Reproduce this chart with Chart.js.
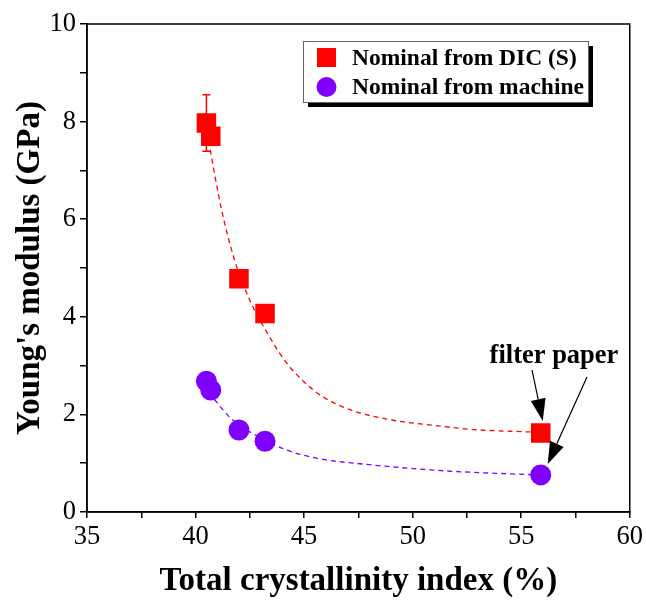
<!DOCTYPE html>
<html>
<head>
<meta charset="utf-8">
<script src="https://cdn.jsdelivr.net/npm/chart.js@4.4.0/dist/chart.umd.min.js"></script>
<style>
  body { margin: 0; background: #fff; }
  #wrap { width: 646px; height: 601px; }
</style>
</head>
<body>
<div id="wrap"><canvas id="grafico"></canvas></div>
<script>
// dados
const crystallinity = [40.5, 40.7, 42.0, 43.2, 55.9];
const modulusDIC = [7.97, 7.7, 4.78, 4.07, 1.62];
const errDIC = [0.58, 0, 0, 0, 0];
const modulusMachine = [2.68, 2.5, 1.68, 1.45, 0.76];

// curvas tracejadas (ajuste)
const fitDicX = [40.6, 41.2, 41.8, 42.5, 43.3, 44.2, 45.6, 47.1, 49.1, 50.5, 52.8, 55.4, 55.9];
const fitDicY = [7.6, 6.19, 5.16, 4.34, 3.67, 3.05, 2.44, 2.1, 1.88, 1.8, 1.69, 1.64, 1.63];
const fitMachX = [40.6, 41.7, 43.0, 44.2, 45.6, 48.0, 50.0, 52.0, 54.0, 55.9];
const fitMachY = [2.45, 1.89, 1.52, 1.27, 1.1, 0.97, 0.89, 0.83, 0.79, 0.76];

const xTicks = [35, 40, 45, 50, 55, 60];
const yTicks = [0, 2, 4, 6, 8, 10];

const legendLabels = ['Nominal from DIC (S)', 'Nominal from machine'];

const RED = '#ff0000';
const PURPLE = '#8000ff';
const SERIF = '"Liberation Serif", "Times New Roman", serif';

const toPts = (xs, ys) => xs.map((x, i) => ({ x: x, y: ys[i] }));

// moldura, barra de erro, legenda e anotacao
const extras = {
  id: 'extras',
  beforeDatasetsDraw(chart) {
    const ctx = chart.ctx;
    const xs = chart.scales.x, ys = chart.scales.y;
    ctx.save();
    ctx.strokeStyle = RED;
    ctx.lineWidth = 1.5;
    crystallinity.forEach((x, i) => {
      if (!errDIC[i]) return;
      const px = xs.getPixelForValue(x);
      const top = ys.getPixelForValue(modulusDIC[i] + errDIC[i]);
      const bot = ys.getPixelForValue(modulusDIC[i] - errDIC[i]);
      ctx.beginPath();
      ctx.moveTo(px, top); ctx.lineTo(px, bot);
      ctx.moveTo(px - 4, top); ctx.lineTo(px + 4, top);
      ctx.moveTo(px - 4, bot); ctx.lineTo(px + 4, bot);
      ctx.stroke();
    });
    ctx.restore();
  },
  afterDraw(chart) {
    const ctx = chart.ctx;
    const a = chart.chartArea;
    const xs = chart.scales.x, ys = chart.scales.y;
    ctx.save();
    ctx.strokeStyle = '#000';
    ctx.lineWidth = 1.5;
    ctx.strokeRect(a.left, a.top, a.right - a.left, a.bottom - a.top);

    // legenda com sombra
    const lx = 303, ly = 41, lw = 285, lh = 61;
    ctx.fillStyle = '#000';
    ctx.fillRect(lx + 5, ly + 5, lw, lh);
    ctx.fillStyle = '#fff';
    ctx.fillRect(lx, ly, lw, lh);
    ctx.lineWidth = 1;
    ctx.strokeStyle = '#666';
    ctx.strokeRect(lx + 0.5, ly + 0.5, lw, lh);
    ctx.fillStyle = RED;
    ctx.fillRect(317, 48, 19, 19);
    ctx.fillStyle = PURPLE;
    ctx.beginPath();
    ctx.arc(326.5, 87, 10, 0, Math.PI * 2);
    ctx.fill();
    ctx.fillStyle = '#000';
    ctx.font = 'bold 23.5px ' + SERIF;
    ctx.textBaseline = 'middle';
    ctx.textAlign = 'left';
    ctx.fillText(legendLabels[0], 352, 59);
    ctx.fillText(legendLabels[1], 352, 88);

    // anotacao "filter paper"
    const last = crystallinity.length - 1;
    const px = xs.getPixelForValue(crystallinity[last]);
    ctx.font = 'bold 26.5px ' + SERIF;
    ctx.textAlign = 'center';
    ctx.textBaseline = 'alphabetic';
    ctx.fillText('filter paper', 554, 363);
    const arrow = (x0, y0, x1, y1) => {
      const ang = Math.atan2(y1 - y0, x1 - x0);
      const L = 22, W = 7.5;
      const bx = x1 - L * Math.cos(ang), by = y1 - L * Math.sin(ang);
      ctx.lineWidth = 1.2;
      ctx.beginPath();
      ctx.moveTo(x0, y0); ctx.lineTo(bx, by);
      ctx.stroke();
      ctx.beginPath();
      ctx.moveTo(x1, y1);
      ctx.lineTo(bx + W * Math.sin(ang), by - W * Math.cos(ang));
      ctx.lineTo(bx - W * Math.sin(ang), by + W * Math.cos(ang));
      ctx.closePath();
      ctx.fill();
    };
    ctx.strokeStyle = '#000';
    arrow(532, 370, px + 2, ys.getPixelForValue(modulusDIC[last]) - 12);
    arrow(587, 377, px + 7, ys.getPixelForValue(modulusMachine[last]) - 11);
    ctx.restore();
  }
};

const ctx = document.getElementById('grafico').getContext('2d');
const grafico = new Chart(ctx, {
  type: 'scatter',
  data: {
    datasets: [
      {
        data: toPts(fitDicX, fitDicY),
        showLine: true, cubicInterpolationMode: 'monotone',
        borderColor: RED, borderWidth: 1.3, borderDash: [5, 4],
        pointRadius: 0
      },
      {
        data: toPts(fitMachX, fitMachY),
        showLine: true, cubicInterpolationMode: 'monotone',
        borderColor: PURPLE, borderWidth: 1.3, borderDash: [5, 4],
        pointRadius: 0
      },
      {
        data: toPts(crystallinity, modulusDIC),
        pointStyle: 'rect', pointRadius: 13.8,
        backgroundColor: RED, borderColor: RED, borderWidth: 0
      },
      {
        data: toPts(crystallinity, modulusMachine),
        pointStyle: 'circle', pointRadius: 10.5,
        backgroundColor: PURPLE, borderColor: PURPLE, borderWidth: 0
      }
    ]
  },
  options: {
    responsive: true,
    maintainAspectRatio: false,
    animation: false,
    layout: { padding: { top: 24, right: 16, left: 0, bottom: 0 } },
    plugins: { legend: { display: false }, tooltip: { enabled: false } },
    scales: {
      x: {
        min: 35, max: 60,
        afterFit: s => { s.height = 89; },
        grid: { drawOnChartArea: false, tickLength: 6, color: '#000', lineWidth: 1.5 },
        border: { color: '#000', width: 1.5 },
        ticks: {
          stepSize: 2.5, color: '#000', padding: 3,
          font: { family: SERIF, size: 26.5 },
          maxRotation: 0, autoSkip: false,
          callback: v => xTicks.includes(v) ? v : ''
        },
        title: {
          display: true, text: 'Total crystallinity index (%)', color: '#000',
          font: { family: SERIF, size: 33, weight: 'bold' },
          padding: { top: 0, bottom: 0 }
        }
      },
      y: {
        min: 0, max: 10,
        afterFit: s => { s.width = 87; },
        grid: { drawOnChartArea: false, tickLength: 7, color: '#000', lineWidth: 1.5 },
        border: { color: '#000', width: 1.5 },
        ticks: {
          stepSize: 1, color: '#000', padding: 4,
          font: { family: SERIF, size: 26.5 },
          autoSkip: false,
          callback: v => yTicks.includes(v) ? v : ''
        },
        title: {
          display: true, text: "Young's modulus (GPa)", color: '#000',
          font: { family: SERIF, size: 33, weight: 'bold' },
          padding: { top: 11, bottom: 0 }
        }
      }
    }
  },
  plugins: [extras]
});
</script>
</body>
</html>
